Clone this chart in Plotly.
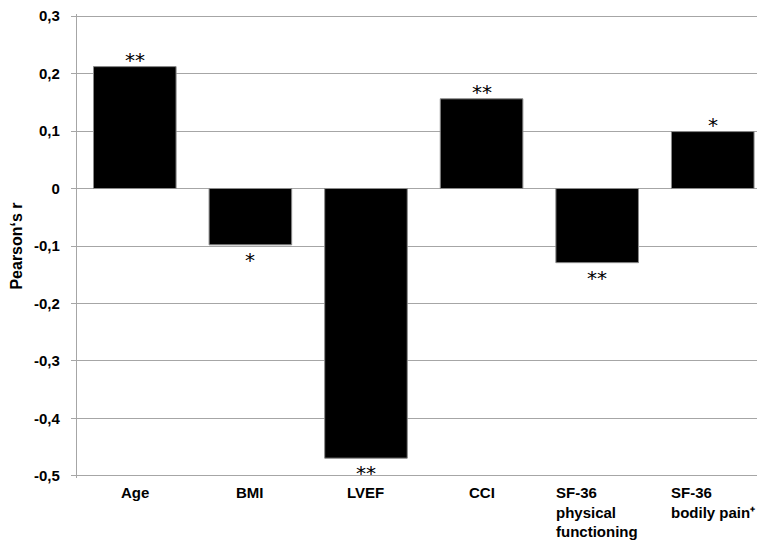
import plotly.graph_objects as go

categories = ["Age", "BMI", "LVEF", "CCI", "SF-36 physical functioning", "SF-36 bodily pain+"]
labels = ["Age", "BMI", "LVEF", "CCI", "SF-36<br>physical<br>functioning", "SF-36<br>bodily pain⁺"]
values = [0.212, -0.098, -0.469, 0.156, -0.129, 0.099]
signif = ["**", "*", "**", "**", "**", "*"]
tick_vals = [0.3, 0.2, 0.1, 0, -0.1, -0.2, -0.3, -0.4, -0.5]
tick_text = ["0,3", "0,2", "0,1", "0", "-0,1", "-0,2", "-0,3", "-0,4", "-0,5"]

FONT = "Liberation Sans, Arial, sans-serif"

fig = go.Figure()
fig.add_trace(go.Bar(
    x=categories, y=values,
    marker=dict(color="black", line=dict(color="#8a8a8a", width=1)),
    showlegend=False, hoverinfo="skip",
))

annotations = []
for c, v, s in zip(categories, values, signif):
    annotations.append(dict(
        x=c, y=v, xref="x", yref="y", text=s, showarrow=False,
        yanchor="bottom" if v > 0 else "top",
        yshift=-7 if v > 0 else -1,
        font=dict(family="DejaVu Sans", size=20, color="black"),
    ))
for c, lab in zip(categories, labels):
    annotations.append(dict(
        x=c, y=-0.5, xref="x", yref="y", text=lab, showarrow=False,
        xanchor="center", yanchor="top", align="left", yshift=-6,
        font=dict(family=FONT, size=15, color="black", weight="bold"),
    ))

fig.update_layout(
    width=757, height=533,
    margin=dict(l=69, r=0, t=6, b=63, autoexpand=False),
    paper_bgcolor="white", plot_bgcolor="white",
    bargap=0.2855,
    annotations=annotations,
    xaxis=dict(
        range=[-0.5, 5.452], showticklabels=False, showgrid=False,
        zeroline=False, showline=False, ticks="",
    ),
    yaxis=dict(
        range=[-0.5035, 0.3035], tickvals=tick_vals, ticktext=tick_text,
        showgrid=True, gridcolor="#a6a6a6", gridwidth=1.3,
        zeroline=False, showline=True, linecolor="#a6a6a6", linewidth=1.3,
        ticks="outside", ticklen=5, tickcolor="#a6a6a6", tickwidth=1.3,
        ticklabelstandoff=8, ticklabeloverflow="allow",
        tickfont=dict(family=FONT, size=15, color="black", weight="bold"),
        title=dict(text="Pearson‘s r", standoff=8,
                   font=dict(family=FONT, size=16, color="black", weight="bold")),
    ),
)

fig.write_html("out.html")
